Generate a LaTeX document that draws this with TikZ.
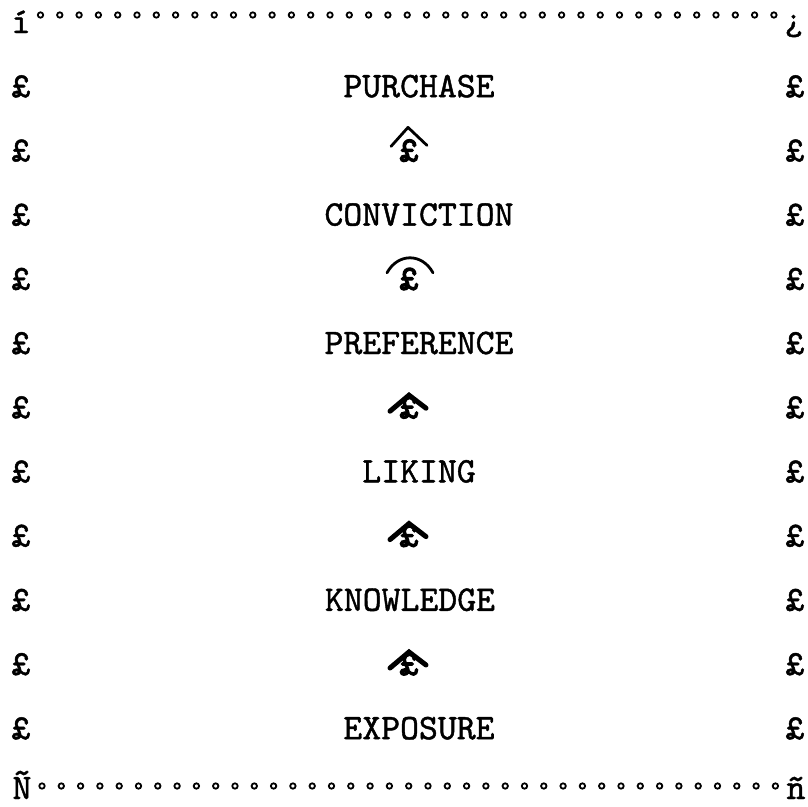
\documentclass[tikz,border=0pt]{standalone}
\usepackage{fontspec}
\newfontfamily\tw[FakeBold=1.2]{lmmono10-regular.otf}
\newfontfamily\twb[FakeBold=3]{lmmono10-regular.otf}
\begin{document}
\begin{tikzpicture}[x=1pt,y=-1pt,
  txt/.style={font=\tw\fontsize{36}{36}\selectfont, inner sep=0pt, anchor=base},
  bpound/.style={font=\twb\fontsize{36}{36}\selectfont, inner sep=0pt, anchor=base},
  dot/.style={line width=1.8pt},
  hat/.style={line width=2.8pt, line cap=round, line join=round},
  hathvy/.style={line width=5pt, line cap=round, line join=miter}]
\useasboundingbox (0,0) rectangle (808,806);
% corners
\node[txt] (tl) at (21,33) {í};
\node[txt] (tr) at (794,29) {¿};
\node[txt] (bl) at (22,799) {Ñ};
\node[txt] (br) at (796,799) {ñ};
% top and bottom dotted borders
\foreach \i in {0,...,38}{
  \draw[dot] ({40.5+\i*19.3},15) circle (2.7);
  \draw[dot] ({42+\i*19.3},786) circle (2.7);
}
% side bars
\foreach \k in {1,...,11}{
  \node[txt] (L\k) at (21,{33+\k*64.2}) {£};
  \node[txt] (R\k) at (795,{33+\k*64.2}) {£};
}
% labels
\node[txt] (purchase)   at (419,97.2)  {PURCHASE};
\node[txt] (conviction) at (419,225.6) {CONVICTION};
\node[txt] (preference) at (419,354)   {PREFERENCE};
\node[txt] (liking)     at (419,482.4) {LIKING};
\node[txt] (knowledge)  at (410,610.8) {KNOWLEDGE};
\node[txt] (exposure)   at (419,739.2) {EXPOSURE};
% arrows
\node[bpound] (a1) at (409,161.4) {£};
\draw[hat] ([xshift=-18pt,yshift=15pt]a1.base) -- ([xshift=-1pt,yshift=34pt]a1.base) -- ([xshift=18pt,yshift=16pt]a1.base);
\node[bpound] (a2) at (409,289.8) {£};
\draw[hat] ([xshift=-22pt,yshift=17pt]a2.base) .. controls ([xshift=-11pt,yshift=37pt]a2.base) and ([xshift=13pt,yshift=37pt]a2.base) .. ([xshift=24pt,yshift=17pt]a2.base);
\foreach \n/\b in {a3/418.2, a4/546.6, a5/675}{
  \node[bpound] (\n) at (409,\b) {£};
  \draw[hathvy] ([xshift=-19pt,yshift=7pt]\n.base) -- ([yshift=23pt]\n.base) -- ([xshift=17pt,yshift=10pt]\n.base);
}
\end{tikzpicture}
\end{document}
